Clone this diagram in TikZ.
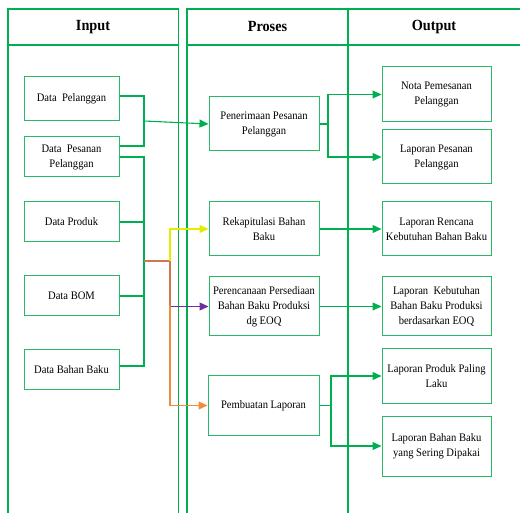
\documentclass[tikz,border=0pt]{standalone}
\usepackage{fontspec}
\setmainfont{Liberation Serif}[FakeStretch=0.92]
\usetikzlibrary{arrows.meta}
\definecolor{gr}{RGB}{0,176,80}
\definecolor{grb}{RGB}{40,185,100}
\definecolor{yl}{RGB}{225,238,0}
\definecolor{pu}{RGB}{112,48,160}
\definecolor{orr}{RGB}{240,140,60}
\definecolor{br}{RGB}{205,120,80}
\tikzset{
  frame/.style={draw=gr, line width=1.5pt},
  box/.style={draw=grb, line width=1pt, fill=white, align=center, inner sep=1pt,
    font=\fontsize{11.5}{15}\selectfont},
  hdr/.style={font=\fontsize{15.5}{17}\selectfont\bfseries},
  gline/.style={draw=gr, line width=1.1pt},
  tip/.style={-{Triangle[length=9pt,width=8pt]}},
  garrow/.style={gline, tip},
}
\begin{document}
\begin{tikzpicture}[x=1pt,y=-1pt]
\useasboundingbox (0,0) rectangle (520,513);
\clip (0,0) rectangle (520,513);
% frames
\draw[frame] (8,520) -- (8,9) -- (178.5,9) -- (178.5,520);
\draw[frame] (8,45) -- (178.5,45);
\draw[frame] (187,520) -- (187,9) -- (530,9);
\draw[frame] (187,45) -- (530,45);
\draw[frame] (348,9) -- (348,520);
\node[hdr] (hin) at (93,27) {Input};
\node[hdr] (hpr) at (267.5,27) {Proses};
\node[hdr] (hout) at (434,27) {Output};
% input boxes
\node[box, minimum width=95pt, minimum height=44pt] (dpel) at (71.5,99) {Data\ \ Pelanggan};
\node[box, minimum width=95pt, minimum height=40pt] (dpes) at (71.5,157) {Data\ \ Pesanan\\Pelanggan};
\node[box, minimum width=95pt, minimum height=40pt] (dprod) at (71.5,222) {Data Produk};
\node[box, minimum width=95pt, minimum height=40pt] (dbom) at (71.5,296) {Data BOM};
\node[box, minimum width=95pt, minimum height=40pt] (dbb) at (71.5,370) {Data Bahan Baku};
% proses boxes
\node[box, minimum width=110pt, minimum height=54pt] (pen) at (264,124) {Penerimaan Pesanan\\Pelanggan};
\node[box, minimum width=110pt, minimum height=54pt] (rek) at (264,229) {Rekapitulasi Bahan\\Baku};
\node[box, minimum width=110pt, minimum height=59pt] (per) at (264,306.5) {Perencanaan Persediaan\\Bahan Baku Produksi\\dg EOQ};
\node[box, minimum width=111pt, minimum height=59pt] (pem) at (263.5,405.5) {Pembuatan Laporan};
% output boxes
\node[box, minimum width=109pt, minimum height=55pt] (nota) at (436.5,94.5) {Nota Pemesanan\\Pelanggan};
\node[box, minimum width=109pt, minimum height=54pt] (lpp) at (436.5,157) {Laporan Pesanan\\Pelanggan};
\node[box, minimum width=109pt, minimum height=54pt] (lrk) at (436.5,229) {Laporan Rencana\\Kebutuhan Bahan Baku};
\node[box, minimum width=109pt, minimum height=59pt] (lkb) at (436.5,306.5) {Laporan\ \ Kebutuhan\\Bahan Baku Produksi\\berdasarkan EOQ};
\node[box, minimum width=109pt, minimum height=54pt] (lppl) at (436.5,376) {Laporan Produk Paling\\Laku};
\node[box, minimum width=109pt, minimum height=60pt] (lbb) at (436.5,446) {Laporan Bahan Baku\\yang Sering Dipakai};
% junction coordinates
\coordinate (j1) at (144,121);
\coordinate (j2) at (144,261);
\coordinate (j3) at (170,261);
\coordinate (j4) at (170,306.5);
\coordinate (k1) at (328,124);
\coordinate (k2) at (331,405.5);
% input connectors
\draw[gline] ([yshift=3pt]dpel.east) -| (144,146) -- ([yshift=11pt]dpes.east);
\draw[garrow] (j1) -- (pen.west);
\draw[gline] (dpes.east) -- (144,157) -- (144,366) -- ([yshift=4pt]dbb.east);
\draw[gline] (dprod.east) -- (dprod.east -| j2);
\draw[gline] (dbom.east) -- (dbom.east -| j2);
% coloured connectors
\draw[draw=br, line width=1.2pt] (j2) -- (j3);
\draw[draw=yl, line width=1.2pt, tip] (j3) |- (rek.west);
\draw[draw=br, line width=1.2pt] (j3) -- (j4);
\draw[draw=pu, line width=1.2pt, tip] (j4) -- (per.west);
\draw[draw=orr, line width=1.2pt, tip] (j4) |- (pem.west);
% proses to output
\draw[gline] (pen.east) -- (k1);
\draw[garrow] (k1) |- (nota.west);
\draw[garrow] (k1) |- (lpp.west);
\draw[garrow] (rek.east) -- (lrk.west);
\draw[garrow] (per.east) -- (lkb.west);
\draw[gline] (pem.east) -- (k2);
\draw[garrow] (k2) |- (lppl.west);
\draw[garrow] (k2) |- (lbb.west);
\end{tikzpicture}
\end{document}
